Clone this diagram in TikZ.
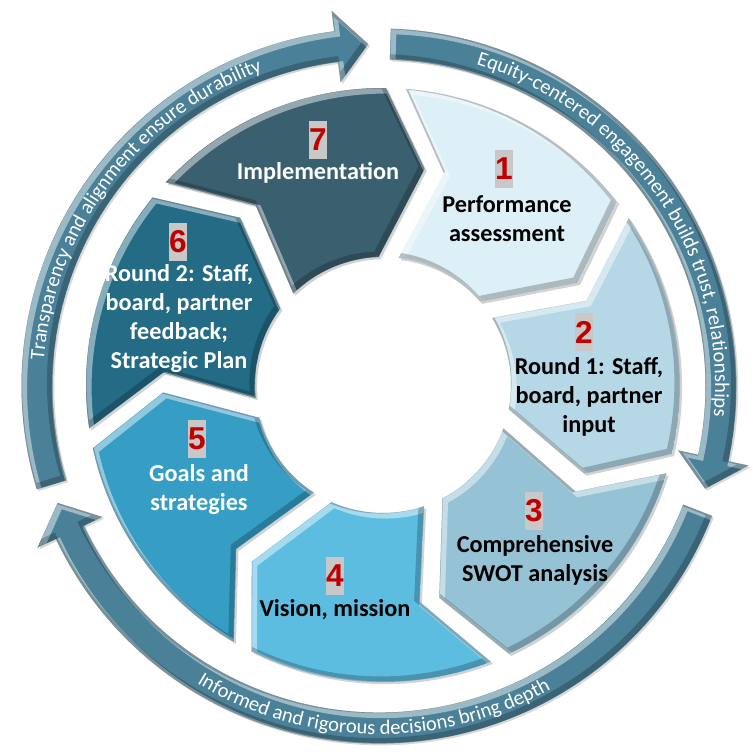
\documentclass[tikz,border=0pt]{standalone}
\usepackage{fontspec}
\usetikzlibrary{decorations.text,shadows}
\newfontfamily\lblfont{Carlito}
\newfontfamily\numfam{Liberation Sans}
\definecolor{c1}{HTML}{DDEFF7}
\definecolor{c2}{HTML}{B6D8E6}
\definecolor{c3}{HTML}{95C2D5}
\definecolor{c4}{HTML}{5DBDE1}
\definecolor{c5}{HTML}{369DC5}
\definecolor{c6}{HTML}{246B86}
\definecolor{c7}{HTML}{3A606F}
\definecolor{ringcol}{HTML}{4B8198}
\definecolor{numgrey}{HTML}{C8C8C8}
\definecolor{numred}{HTML}{C00000}
\begin{document}
\begin{tikzpicture}[x=0.02cm,y=0.02cm,
  seg/.style={drop shadow={shadow xshift=1.2pt,shadow yshift=-1.2pt,opacity=0.35}},
  ringarrow/.style={fill=ringcol,drop shadow={shadow xshift=1pt,shadow yshift=-1pt,opacity=0.3}},
  hilite/.style={draw=white,opacity=0.45,line width=3.5pt},
  shade/.style={draw=black,opacity=0.22,line width=3.5pt},
  num/.style={fill=numgrey,text=numred,font=\numfam\bfseries\fontsize{18}{18}\selectfont,inner sep=0pt,minimum width=10.2pt,minimum height=21.6pt},
  lbl/.style={font=\lblfont\bfseries\fontsize{13.8}{16.5}\selectfont,align=center,inner sep=0pt},
  ringtext/.style={decorate,decoration={text along path,text align=center,text color=white}}
]
\useasboundingbox (0,0) rectangle (753,751);
\fill[white] (0,0) rectangle (753,751);

% outer ring arrows
\foreach \ta/\hb/\tp in {196.8/97.2/91.8, 88.1/-12.15/-17.5, -21.3/-154.65/-160}{
  \def\arrpath{(\ta:357.5) arc[start angle=\ta,end angle=\hb,radius=357.5]
    -- (\hb:378) -- (\tp:342) -- (\hb:306) -- (\hb:326.5)
    arc[start angle=\hb,end angle=\ta,radius=326.5] -- cycle}
  \fill[ringarrow,shift={(379,365)}] \arrpath;
  \begin{scope}
    \clip[shift={(379,365)}] \arrpath;
    \draw[hilite,shift={(381.5,362.5)}] \arrpath;
    \draw[shade,shift={(376.5,367.5)}] \arrpath;
  \end{scope}
}
\begin{scope}[shift={(379,365)}]
\path[ringtext,decoration={text={|\lblfont\fontsize{11.7}{13}\selectfont|Transparency and alignment ensure durability}}]
  (195:336) arc[start angle=195,end angle=91,radius=336];
\path[ringtext,decoration={text={|\lblfont\fontsize{11.7}{13}\selectfont|Equity-centered engagement builds trust, relationships}}]
  (86:336) arc[start angle=86,end angle=-18,radius=336];
\path[ringtext,decoration={text={|\lblfont\fontsize{11.7}{13}\selectfont|Informed and rigorous decisions bring depth}}]
  (-150:348.5) arc[start angle=-150,end angle=-32,radius=348.5];
\end{scope}

% segments
\foreach \k/\col in {1/c1,2/c2,3/c3,4/c4,5/c5,6/c6,7/c7}{
  \pgfmathsetmacro\Bt{87.5-51.4286*(\k-1)}
  \pgfmathsetmacro\Bl{\Bt-51.4286}
  \def\segpath{(\Bt-1.93:297)
    arc[start angle=\Bt-1.93,end angle=\Bl+1.93,radius=297]
    -- (\Bl-8.4:220) -- (\Bl+4.48:128)
    arc[start angle=\Bl+4.48,end angle=\Bt-4.48,radius=128]
    -- (\Bt-13.6:220) -- cycle}
  \fill[\col,seg,shift={(383,366)}] \segpath;
  \begin{scope}
    \clip[shift={(383,366)}] \segpath;
    \draw[hilite,shift={(385.5,363.5)}] \segpath;
    \draw[shade,shift={(380.5,368.5)}] \segpath;
  \end{scope}
}

% numbers
\node[num] (n1) at (504,582) {1};
\node[num] (n2) at (584,419) {2};
\node[num] (n3) at (534,240) {3};
\node[num] (n4) at (335,175) {4};
\node[num] (n5) at (197,312) {5};
\node[num] (n6) at (178,509) {6};
\node[num] (n7) at (318,611) {7};

% labels
\node[lbl,text=black] (t1) at (507,532) {Performance\\assessment};
\node[lbl,text=black] (t2) at (589,354) {Round 1: Staff,\\board, partner\\input};
\node[lbl,text=black] (t3) at (535,191) {Comprehensive\\SWOT analysis};
\node[lbl,text=black] (t4) at (335,141) {Vision, mission};
\node[lbl,text=white] (t5) at (199,261) {Goals and\\strategies};
\node[lbl,text=white] (t6) at (179,432) {Round 2: Staff,\\board, partner\\feedback;\\Strategic Plan};
\node[lbl,text=white] (t7) at (318,578) {Implementation};
\end{tikzpicture}
\end{document}
